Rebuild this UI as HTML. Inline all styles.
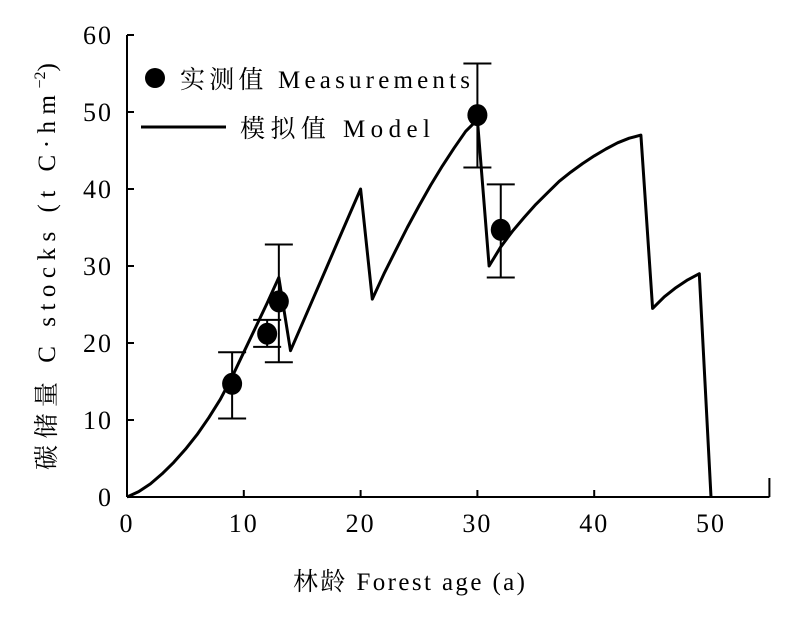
<!DOCTYPE html>
<html><head><meta charset="utf-8"><style>
html,body{margin:0;padding:0;background:#fff;}
svg text{font-family:"Liberation Serif","Noto Serif CJK SC",serif;fill:#000;}
</style></head><body>
<svg id="chart" width="800" height="622" viewBox="0 0 800 622" xmlns="http://www.w3.org/2000/svg">
<g id="axes"></g>
<g id="series"></g>
<g id="legend">
  <circle cx="155" cy="78" r="10" fill="#000"/>
  <text x="180" y="88" font-size="25" textLength="290" lengthAdjust="spacing">实测值 Measurements</text>
  <line x1="141" y1="127" x2="226" y2="127" stroke="#000" stroke-width="3"/>
  <text x="240" y="137" font-size="25" textLength="190" lengthAdjust="spacing">模拟值  Model</text>
</g>
<text x="293" y="590" font-size="25" textLength="232" lengthAdjust="spacing">林龄 Forest age (a)</text>
<text transform="translate(55,470) rotate(-90)" font-size="25"><tspan textLength="375" lengthAdjust="spacing">碳储量  C stocks (t C·hm</tspan><tspan font-size="16" dy="-10">−2</tspan><tspan dy="10">)</tspan></text>
</svg>
<script>
const xTicks = [0,10,20,30,40,50];
const yTicks = [0,10,20,30,40,50,60];
const modelAges = [0,1,2,3,4,5,6,7,8,9,10,11,12,13,14,15,16,17,18,19,20,21,22,23,24,25,26,27,28,29,30,31,32,33,34,35,36,37,38,39,40,41,42,43,44,45,46,47,48,49,50];
const modelValues = [0,0.7,1.7,3,4.5,6.2,8.1,10.3,12.7,15.6,18.8,22,25.2,28.5,19,22.5,26,29.5,33,36.5,40,25.7,29,32,35,37.8,40.5,43,45.3,47.5,49,30,32.5,34.5,36.3,38,39.5,41,42.2,43.3,44.3,45.2,46,46.6,47,24.5,26,27.2,28.2,29,0];
const measAges = [9,12,13,30,32];
const measValues = [14.7,21.2,25.4,49.6,34.7];
const measLow = [10.2,19.5,17.5,42.8,28.5];
const measHigh = [18.8,23,32.8,56.3,40.6];

const NS = 'http://www.w3.org/2000/svg';
const X0 = 127, XS = 11.68, Y0 = 497, YS = 7.7;
const sx = v => X0 + v*XS;
const sy = v => Y0 - v*YS;
function mk(tag, attrs, parent){
  const el = document.createElementNS(NS, tag);
  for (const k in attrs) el.setAttribute(k, attrs[k]);
  parent.appendChild(el);
  return el;
}
const axes = document.getElementById('axes');
const series = document.getElementById('series');

let ax = mk('line',{x1:sx(0),y1:sy(0),x2:sx(55),y2:sy(0),stroke:'#000','stroke-width':2},axes);


let ay = mk('line',{x1:sx(0),y1:sy(0),x2:sx(0),y2:sy(60),stroke:'#000','stroke-width':2},axes);


let endT = mk('line',{x1:sx(55),y1:sy(0),x2:sx(55),y2:sy(0)-19,stroke:'#000','stroke-width':2},axes);



xTicks.forEach(t=>{
  const l = mk('line',{x1:sx(t),y1:sy(0),x2:sx(t),y2:sy(0)-7,stroke:'#000','stroke-width':2},axes);
  
  
  const tx = mk('text',{x:sx(t),y:sy(0)+35,'font-size':26,'text-anchor':'middle','letter-spacing':2},axes);
  tx.textContent = t;
  
  
});
yTicks.forEach(t=>{
  const l = mk('line',{x1:sx(0),y1:sy(t),x2:sx(0)+7,y2:sy(t),stroke:'#000','stroke-width':2},axes);
  
  
  const tx = mk('text',{x:sx(0)-14,y:sy(t)+9,'font-size':26,'text-anchor':'end','letter-spacing':2},axes);
  tx.textContent = t;
  
  
});

const pts = modelAges.map((a,i)=>sx(a).toFixed(1)+','+sy(modelValues[i]).toFixed(1)).join(' ');
const pl = mk('polyline',{points:pts,fill:'none',stroke:'#000','stroke-width':3,'stroke-linejoin':'round'},series);



measAges.forEach((a,i)=>{
  const x = sx(a);
  const g = mk('g',{},series);
  
  
  mk('line',{x1:x,y1:sy(measLow[i]),x2:x,y2:sy(measHigh[i]),stroke:'#000','stroke-width':2},g);
  mk('line',{x1:x-14,y1:sy(measLow[i]),x2:x+14,y2:sy(measLow[i]),stroke:'#000','stroke-width':2},g);
  mk('line',{x1:x-14,y1:sy(measHigh[i]),x2:x+14,y2:sy(measHigh[i]),stroke:'#000','stroke-width':2},g);
  const c = mk('ellipse',{cx:x,cy:sy(measValues[i]),rx:10,ry:11,fill:'#000'},series);
  
  
});
</script>
</body></html>
